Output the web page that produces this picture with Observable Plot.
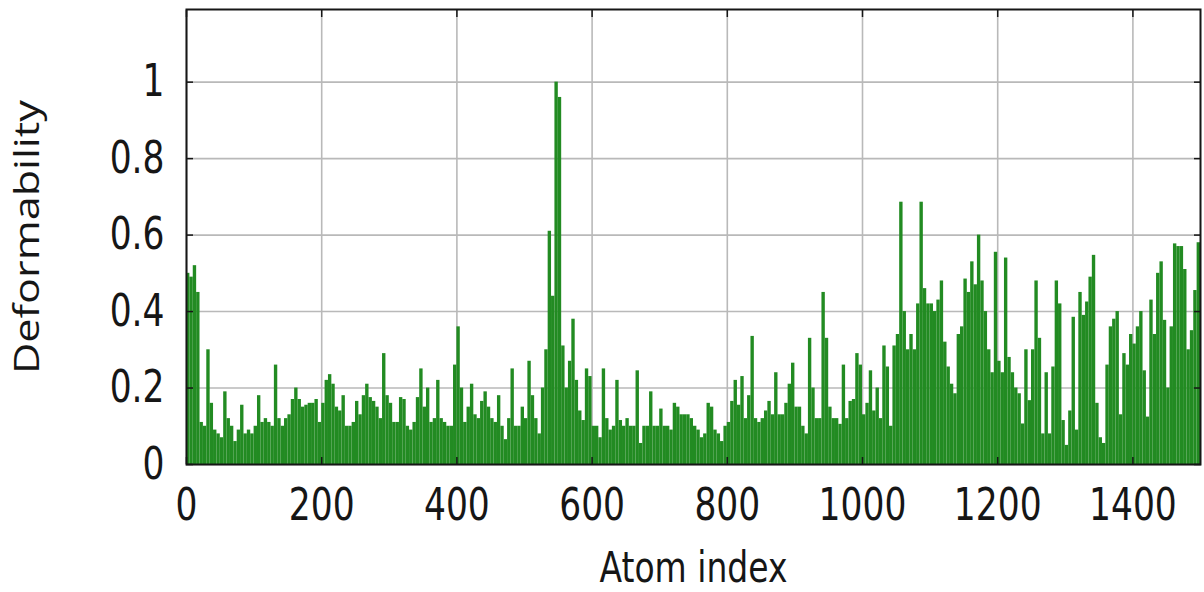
<!DOCTYPE html>
<html>
<head>
<meta charset="utf-8">
<script src="https://cdn.jsdelivr.net/npm/d3@7"></script>
<script src="https://cdn.jsdelivr.net/npm/@observablehq/plot@0.6"></script>
<style>
  html, body { margin: 0; padding: 0; background: #ffffff; }
  #chart svg { display: block; }
</style>
</head>
<body>
<div id="chart"></div>
<script>
// Deformability per atom, one value per bin of 5 atoms (atoms 0..1499)
const deformability = [
  0.50, 0.49, 0.52, 0.45, 0.11, 0.10, 0.30, 0.16, 0.09, 0.08,
  0.07, 0.19, 0.12, 0.10, 0.06, 0.09, 0.155, 0.08, 0.09, 0.08,
  0.10, 0.18, 0.11, 0.12, 0.11, 0.10, 0.26, 0.12, 0.10, 0.12,
  0.13, 0.17, 0.20, 0.17, 0.15, 0.155, 0.16, 0.16, 0.17, 0.11,
  0.16, 0.22, 0.235, 0.21, 0.15, 0.14, 0.18, 0.10, 0.10, 0.11,
  0.165, 0.13, 0.18, 0.21, 0.175, 0.165, 0.15, 0.12, 0.29, 0.18,
  0.16, 0.11, 0.11, 0.175, 0.17, 0.10, 0.09, 0.11, 0.175, 0.25,
  0.15, 0.20, 0.11, 0.12, 0.22, 0.12, 0.11, 0.10, 0.10, 0.26,
  0.36, 0.20, 0.11, 0.15, 0.21, 0.13, 0.12, 0.165, 0.19, 0.15,
  0.12, 0.11, 0.18, 0.10, 0.065, 0.12, 0.25, 0.10, 0.10, 0.15,
  0.12, 0.27, 0.18, 0.12, 0.08, 0.20, 0.30, 0.61, 0.44, 1.00,
  0.96, 0.31, 0.20, 0.27, 0.38, 0.22, 0.14, 0.115, 0.25, 0.23,
  0.10, 0.10, 0.07, 0.25, 0.12, 0.09, 0.10, 0.22, 0.115, 0.10,
  0.12, 0.10, 0.10, 0.245, 0.055, 0.10, 0.10, 0.19, 0.10, 0.10,
  0.145, 0.10, 0.10, 0.09, 0.16, 0.15, 0.13, 0.13, 0.13, 0.12,
  0.10, 0.09, 0.07, 0.08, 0.16, 0.15, 0.09, 0.08, 0.06, 0.10,
  0.11, 0.165, 0.22, 0.155, 0.23, 0.12, 0.18, 0.335, 0.12, 0.11,
  0.12, 0.14, 0.165, 0.13, 0.24, 0.13, 0.13, 0.16, 0.21, 0.265,
  0.15, 0.15, 0.10, 0.08, 0.33, 0.20, 0.12, 0.12, 0.45, 0.33,
  0.15, 0.12, 0.12, 0.105, 0.26, 0.12, 0.165, 0.17, 0.29, 0.26,
  0.13, 0.16, 0.245, 0.14, 0.20, 0.12, 0.31, 0.255, 0.10, 0.31,
  0.34, 0.686, 0.40, 0.30, 0.34, 0.30, 0.42, 0.686, 0.46, 0.42,
  0.42, 0.40, 0.43, 0.48, 0.32, 0.255, 0.21, 0.185, 0.34, 0.36,
  0.485, 0.45, 0.53, 0.47, 0.60, 0.48, 0.40, 0.30, 0.24, 0.555,
  0.27, 0.24, 0.54, 0.28, 0.24, 0.20, 0.185, 0.106, 0.30, 0.167,
  0.30, 0.48, 0.33, 0.08, 0.24, 0.08, 0.255, 0.48, 0.42, 0.115,
  0.05, 0.14, 0.385, 0.09, 0.45, 0.39, 0.425, 0.49, 0.547, 0.16,
  0.07, 0.055, 0.26, 0.36, 0.38, 0.40, 0.13, 0.29, 0.26, 0.34,
  0.315, 0.36, 0.40, 0.245, 0.124, 0.43, 0.34, 0.50, 0.53, 0.377,
  0.20, 0.36, 0.577, 0.57, 0.57, 0.51, 0.30, 0.35, 0.455, 0.58
];
const binSize = 5;
const xDomain = [0, 1500];
const yDomain = [0, 1.19];
const xTicks = [0, 200, 400, 600, 800, 1000, 1200, 1400];
const yTicks = [0, 0.2, 0.4, 0.6, 0.8, 1];
const xLabel = "Atom index";
const yLabel = "Deformability";

const data = deformability.map((value, i) => ({atom: i * binSize, value}));

const green = "#228b22";
const gridColor = "#b9b9b9";
const ink = "#161616";

const chart = Plot.plot({
  width: 1204,
  height: 592,
  marginLeft: 186,
  marginRight: 4,
  marginTop: 9,
  marginBottom: 128,
  style: {fontFamily: "'DejaVu Sans', sans-serif", fontSize: "34.5px", color: ink, background: "#ffffff"},
  x: {domain: xDomain, label: null},
  y: {domain: yDomain, label: null},
  marks: [
    Plot.gridX(xTicks, {stroke: gridColor, strokeOpacity: 1, strokeWidth: 1.6}),
    Plot.gridY(yTicks, {stroke: gridColor, strokeOpacity: 1, strokeWidth: 1.6}),
    Plot.rectY(data, {x1: "atom", x2: d => d.atom + binSize, y: "value", fill: green}),
    // tick labels
    Plot.axisX(xTicks, {anchor: "bottom", tickSize: 0, tickPadding: 28, tickFormat: d => String(d), label: null}),
    Plot.axisY(yTicks, {anchor: "left", tickSize: 0, tickPadding: 22, tickFormat: d => String(d), label: null}),
    // inward tick marks on all four sides
    Plot.axisX(xTicks, {anchor: "bottom", tickSize: -7, fill: "none", stroke: ink, strokeWidth: 1.5, label: null}),
    Plot.axisX(xTicks, {anchor: "top", tickSize: -7, fill: "none", stroke: ink, strokeWidth: 1.5, label: null}),
    Plot.axisY(yTicks, {anchor: "left", tickSize: -7, fill: "none", stroke: ink, strokeWidth: 1.5, label: null}),
    Plot.axisY(yTicks, {anchor: "right", tickSize: -7, fill: "none", stroke: ink, strokeWidth: 1.5, label: null}),
    Plot.frame({stroke: ink, strokeWidth: 2}),
    // axis titles
    Plot.text([xLabel], {text: d => d, frameAnchor: "bottom", lineAnchor: "middle", dy: 104, fontSize: 33, fill: ink}),
    Plot.text([yLabel], {text: d => d, frameAnchor: "left", textAnchor: "middle", lineAnchor: "middle", dx: -158, rotate: -90, fontSize: 34, fontFamily: "'Open Sans', sans-serif", fill: ink})
  ]
});

document.getElementById("chart").appendChild(chart);

// The reference picture is vertically stretched: wrap each text in a group that
// stretches it vertically around its own centre.
const STRETCH = 1.27;
const SVGNS = "http://www.w3.org/2000/svg";
Array.from(chart.querySelectorAll("text")).forEach(el => {
  const parent = el.parentNode;
  const r = el.getBoundingClientRect();
  if (!r.height) return;
  const cyScreen = r.top + r.height / 2;
  const pm = parent.getScreenCTM();
  const cy = (cyScreen - pm.f) / pm.d;
  const g = document.createElementNS(SVGNS, "g");
  g.setAttribute("transform", `translate(0,${cy}) scale(1,${STRETCH}) translate(0,${-cy})`);
  parent.insertBefore(g, el);
  g.appendChild(el);
});
</script>
</body>
</html>
